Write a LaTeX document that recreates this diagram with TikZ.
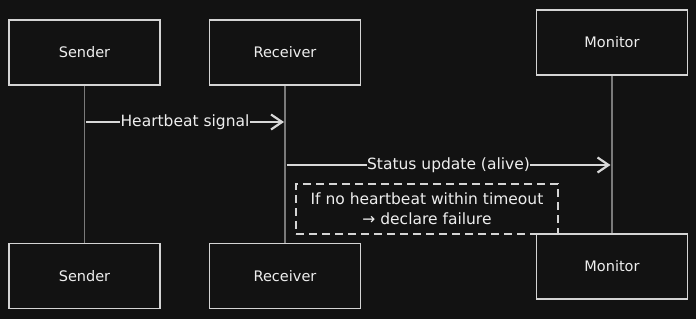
\documentclass[tikz,border=0pt]{standalone}
\usepackage{fontspec}
\setmainfont{DejaVu Sans}
\usetikzlibrary{arrows.meta,calc}
\definecolor{bgc}{HTML}{121212}
\definecolor{edgec}{HTML}{D4D4D4}
\definecolor{lifec}{HTML}{7A7A7A}
\definecolor{arrc}{HTML}{D8D8D8}
\definecolor{txtc}{HTML}{EEEEEE}
\tikzset{
  actorbox/.style={draw=edgec, line width=1.6pt, fill=bgc, minimum width=151pt, minimum height=65pt, text=txtc, font=\fontsize{14.5}{16}\selectfont, inner sep=0pt},
  lifeline/.style={draw=lifec, line width=1.1pt},
  msgarrow/.style={draw=arrc, line width=2.4pt, -{Straight Barb[length=11pt,width=15pt,line width=2.2pt]}},
  msglabel/.style={fill=bgc, text=txtc, font=\fontsize{15.5}{17}\selectfont, inner sep=0.5pt},
  notebox/.style={draw=edgec, line width=1.6pt, dash pattern=on 8pt off 5pt, text=txtc, font=\fontsize{15.5}{20}\selectfont, align=center}
}
\begin{document}
\begin{tikzpicture}[x=1pt,y=-1pt]
\fill[bgc] (0,0) rectangle (696,319);
\useasboundingbox (0,0) rectangle (696,319);

\node[actorbox] (sendT) at (84.5,52.5) {Sender};
\node[actorbox] (recvT) at (285,52.5) {Receiver};
\node[actorbox] (monT) at (612,42.5) {Monitor};
\node[actorbox] (sendB) at (84.5,276) {Sender};
\node[actorbox] (recvB) at (285,276) {Receiver};
\node[actorbox] (monB) at (612,266.5) {Monitor};

\draw[lifeline] (sendT.south) -- (sendB.north);
\draw[lifeline] (recvT.south) -- (recvB.north);
\draw[lifeline] (monT.south) -- (monB.north);

\coordinate (hbA) at ($(sendT.south)+(1.5,0)$);
\coordinate (hbS) at (hbA |- 0,122);
\coordinate (hbE) at (recvT.south |- 0,122);
\draw[msgarrow] (hbS) -- node[msglabel] (hbL) {Heartbeat signal} ($(hbE)+(-1,0)$);

\coordinate (stA) at ($(recvT.south)+(1.5,0)$);
\coordinate (stS) at (stA |- 0,165);
\coordinate (stE) at (monT.south |- 0,165);
\draw[msgarrow] (stS) -- node[msglabel] (stL) {Status update (alive)} ($(stE)+(-1.5,0)$);

\node[notebox, minimum width=262pt, minimum height=50pt] (note) at (427,209) {If no heartbeat within timeout\\→ declare failure};
\end{tikzpicture}
\end{document}
